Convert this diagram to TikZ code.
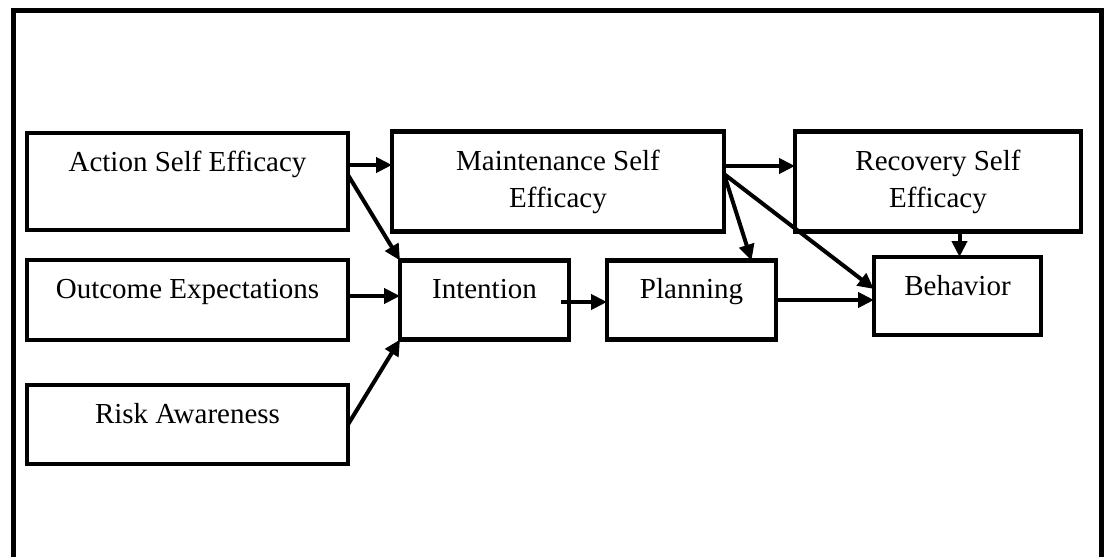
\documentclass[tikz,border=0pt]{standalone}
\usepackage{fontspec}
\setmainfont{Liberation Serif}
\usetikzlibrary{positioning,arrows.meta}
\tikzset{
  block/.style={draw, rectangle, line width=2.2pt, inner sep=0pt, outer sep=0pt,
    align=center, text height=19pt, font=\fontsize{14.5}{18.5}\selectfont},
  link/.style={line width=2pt, -{Triangle[length=8pt,width=7.5pt]}}
}

\begin{document}
\begin{tikzpicture}[x=0.5pt,y=-0.5pt]
    \useasboundingbox (0,0) rectangle (1104,557);
    \draw[line width=2.5pt] (13,557) -- (13,10) -- (1101,10) -- (1101,557);

    \node[block, minimum width=160.5pt, text depth=29.5pt] (ase) at (187.5,181.5) {Action Self Efficacy};
    \node[block, right=22pt of ase, minimum width=166pt, text height=38pt, text depth=12pt] (mse) {Maintenance Self\\Efficacy};
    \node[block, right=35.5pt of mse, minimum width=143pt, text height=38pt, text depth=12pt] (rse) {Recovery Self\\Efficacy};
    \node[block, below=15pt of ase, minimum width=160.5pt, text depth=21pt] (oe) {Outcome Expectations};
    \node[block, below=22.5pt of oe, minimum width=160.5pt, text depth=20.5pt] (ra) {Risk Awareness};
    \node[block, right=26pt of oe, minimum width=84.5pt, text depth=20.5pt] (intent) {Intention};
    \node[block, right=19pt of intent, minimum width=84.5pt, text depth=20.5pt] (plan) {Planning};
    \node[block, right=49pt of plan, yshift=2pt, minimum width=83.5pt, text depth=20pt] (beh) {Behavior};

    % Connect the nodes
    \draw[link] ([yshift=8.25pt]ase.east) -- ([yshift=8.25pt]ase.east -| mse.west); %
    \draw[link] ([yshift=3.25pt]ase.east) -- (intent.north west); %
    \draw[link] ([yshift=2pt]oe.east) -- ([yshift=2pt]oe.east -| intent.west); %
    \draw[link] (ra.east) -- (intent.south west); %
    \draw[link] ([xshift=-4pt,yshift=-1pt]intent.east) -- ([yshift=-1pt]intent.east -| plan.west); %
    \draw[link] ([yshift=7.75pt]mse.east) -- ([yshift=7.75pt]mse.east -| rse.west); %
    \draw[link] ([yshift=3.75pt]mse.east) -- ([xshift=30pt]plan.north); %
    \draw[link] ([yshift=3.75pt]mse.east) -- ([yshift=3.5pt]beh.west); %
    \draw[link] (plan.east) -- (plan.east -| beh.west); %
    \draw[link] ([xshift=1pt]rse.south -| beh.north) -- ([xshift=1pt]beh.north); %
\end{tikzpicture}
\end{document}
